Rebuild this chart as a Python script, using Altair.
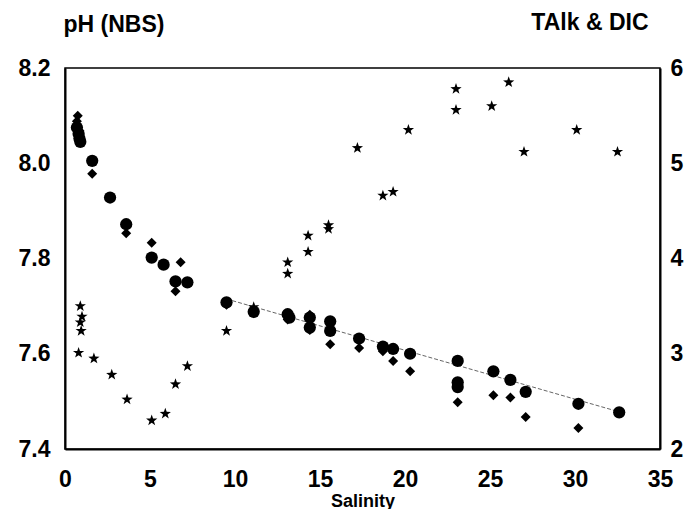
import altair as alt
import pandas as pd

# ---- data ----
circle_sal = [0.7, 0.8, 0.85, 0.9, 1.6, 2.65, 3.6, 5.1, 5.8, 6.5, 7.2, 9.5, 11.1, 13.1, 13.2,
              14.4, 14.4, 15.6, 15.6, 17.3, 18.7, 19.3, 20.3, 23.1, 23.1, 23.1, 25.2, 26.2,
              27.1, 30.2, 32.6]
circle_ph = [8.075, 8.062, 8.052, 8.045, 8.005, 7.928, 7.872, 7.802, 7.787, 7.752, 7.750, 7.708,
             7.688, 7.683, 7.676, 7.676, 7.655, 7.668, 7.648, 7.632, 7.615, 7.610, 7.600, 7.585,
             7.540, 7.530, 7.563, 7.545, 7.520, 7.495, 7.477]

diamond_sal = [0.75, 0.7, 0.85, 1.6, 3.6, 5.1, 6.5, 6.8, 9.5, 11.1, 13.1, 14.4, 14.4, 15.6,
               17.3, 18.7, 19.3, 20.3, 23.1, 25.2, 26.2, 27.1, 30.2]
diamond_ph = [8.100, 8.088, 8.068, 7.978, 7.853, 7.833, 7.731, 7.792, 7.703, 7.685, 7.672, 7.682,
              7.650, 7.620, 7.612, 7.605, 7.585, 7.563, 7.498, 7.513, 7.508, 7.467, 7.444]

star_sal = [0.9, 1.0, 0.9, 0.95, 0.8, 1.7, 2.75, 3.65, 5.1, 5.9, 6.5, 7.2, 9.5, 11.1, 13.1, 13.1,
            14.3, 14.3, 15.5, 15.5, 17.2, 18.7, 19.3, 20.2, 23.0, 23.0, 25.1, 26.1, 27.0, 30.1, 32.5]
star_val = [3.50, 3.39, 3.33, 3.24, 3.01, 2.95, 2.78, 2.52, 2.30, 2.37, 2.68, 2.87, 3.24, 3.49,
            3.96, 3.84, 4.24, 4.07, 4.35, 4.31, 5.16, 4.66, 4.70, 5.35, 5.78, 5.56, 5.60, 5.85,
            5.12, 5.35, 5.12]

trend_sal = [9.5, 32.6]
trend_ph = [7.715, 7.478]

x_ticks = [0, 5, 10, 15, 20, 25, 30, 35]
ph_ticks = [7.4, 7.6, 7.8, 8.0, 8.2]
right_ticks = [2, 3, 4, 5, 6]

FONT = "Liberation Sans"
STAR = ("M0,-1L0.235,-0.324L0.951,-0.309L0.380,0.124L0.588,0.809L0,0.4"
        "L-0.588,0.809L-0.380,0.124L-0.951,-0.309L-0.235,-0.324Z")

df_c = pd.DataFrame({"sal": circle_sal, "ph": circle_ph})
df_d = pd.DataFrame({"sal": diamond_sal, "ph": diamond_ph})
df_s = pd.DataFrame({"sal": star_sal, "val": star_val})
df_t = pd.DataFrame({"sal": trend_sal, "ph": trend_ph})

x_enc = alt.X(
    "sal:Q",
    scale=alt.Scale(domain=[0, 35], nice=False, zero=False),
    axis=alt.Axis(values=x_ticks, format="d", title="Salinity", labelPadding=19,
                  labelFlush=False, labelOverlap=False,
                  titleFontSize=18, titleY=57, titleBaseline="alphabetic"),
)

left_axis = alt.Axis(values=ph_ticks, format=".1f", orient="left", title="pH (NBS)",
                     titleAngle=0, titleAlign="left", titleBaseline="alphabetic",
                     titleX=-2, titleY=-37, labelPadding=15, labelFlush=False,
                     labelOverlap=False, titleFontSize=23)
y_left = alt.Y("ph:Q", scale=alt.Scale(domain=[7.4, 8.2], nice=False, zero=False),
               axis=left_axis)

right_axis = alt.Axis(values=right_ticks, format="d", orient="right", title="TAlk & DIC",
                      titleAngle=0, titleAlign="right", titleBaseline="alphabetic",
                      titleX=-12, titleY=-39, labelPadding=10, labelFlush=False,
                      labelOverlap=False, titleFontSize=23)
y_right = alt.Y("val:Q", scale=alt.Scale(domain=[2, 6], nice=False, zero=False),
                axis=right_axis)

trend = alt.Chart(df_t).mark_line(color="#666666", strokeWidth=1, strokeDash=[4, 2]).encode(
    x=x_enc, y=y_left)
circ = alt.Chart(df_c).mark_point(shape="circle", filled=True, color="black", size=150,
                                  opacity=1).encode(x=x_enc, y=y_left)
diam = alt.Chart(df_d).mark_point(shape="diamond", filled=True, color="black", size=100,
                                  opacity=1).encode(x=x_enc, y=y_left)
left = alt.layer(trend, circ, diam)

stars = alt.Chart(df_s).mark_point(shape=STAR, filled=True, color="black", size=140,
                                   opacity=1).encode(x=x_enc, y=y_right)

chart = (
    alt.layer(left, stars)
    .resolve_scale(y="independent")
    .properties(width=595, height=381,
                padding={"left": 57, "top": 60, "right": 31, "bottom": 60},
                autosize=alt.AutoSizeParams(type="none"))
    .configure_view(stroke="black", strokeWidth=1.5)
    .configure_axis(grid=False, ticks=False, domain=True, domainColor="black",
                    domainWidth=2, labelFont=FONT, labelFontSize=23, labelFontWeight="bold",
                    labelColor="black", titleFont=FONT, titleFontWeight="bold",
                    titleColor="black")
)

chart.save("out.html", embed_options={"renderer": "svg", "actions": False})
